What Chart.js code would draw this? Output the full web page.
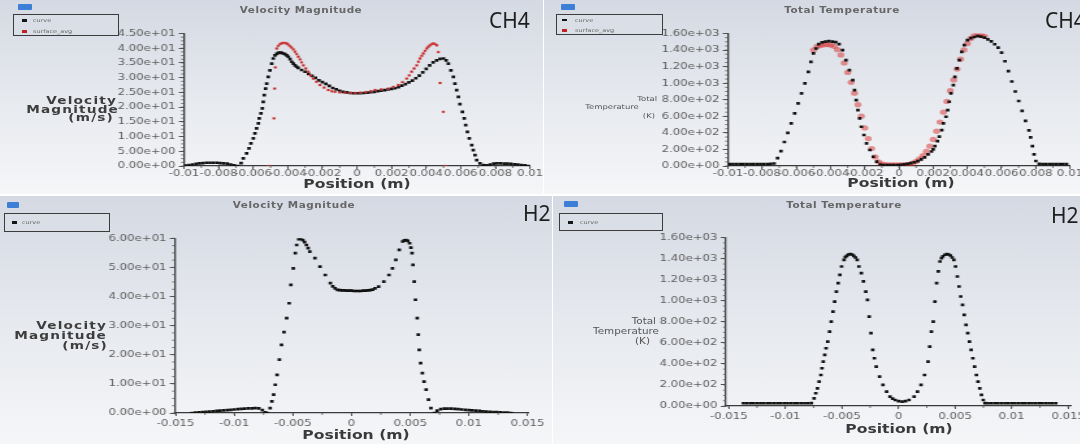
<!DOCTYPE html>
<html><head><meta charset="utf-8">
<script src="https://cdn.jsdelivr.net/npm/chart.js@4.4.1/dist/chart.umd.min.js"></script>
<style>
html,body{margin:0;padding:0;background:#fff;width:1080px;height:444px;overflow:hidden;position:relative;font-family:'DejaVu Sans',sans-serif}
.panel{position:absolute;background:linear-gradient(to bottom,#d5d9e3 0%,#e6e9ee 50%,#f5f6f8 100%)}
.wrap{position:absolute;transform-origin:0 0;transform:scaleX(1.3)}
.wrap canvas{display:block}
.t{position:absolute;white-space:nowrap;line-height:1;z-index:5}
.legend{position:absolute;border:1.5px solid #3c3c3c;background:#dadee6;box-sizing:border-box;z-index:4}
.icon{position:absolute;background:#3d7fd6;border-radius:1px;z-index:4}
.mk{position:absolute;z-index:6}
</style></head><body>
<script>
// ---------- DATA ----------
const xTicksCH4 = [-0.01,-0.008,-0.006,-0.004,-0.002,0,0.002,0.004,0.006,0.008,0.01];
const xTicksH2 = [-0.015,-0.01,-0.005,0,0.005,0.01,0.015];
const yTicksCH4Vel = [0,5,10,15,20,25,30,35,40,45];
const yTicksH2Vel = [0,10,20,30,40,50,60];
const yTicksTemp = [0,200,400,600,800,1000,1200,1400,1600];
const legendLabels = ['curve','surface_avg'];

// CH4 velocity magnitude (black series)
const ch4VelocityLine = [
[-0.0099,0.1],[-0.0097,0.3],[-0.0095,0.5],[-0.0093,0.7],[-0.0091,0.9],[-0.0089,1.0],[-0.0087,1.1],[-0.0085,1.1],[-0.0083,1.1],[-0.0081,1.1],[-0.0079,1.0],[-0.0077,0.9],[-0.0075,0.8],[-0.0073,0.5],[-0.0071,0.2],[-0.0069,0.0],[-0.0067,1.0],
[-0.00657,2.6],[-0.00638,4.3],[-0.00624,6.0],[-0.00613,7.7],[-0.00599,9.4],[-0.0059,11.1],[-0.0058,12.8],[-0.0057,14.5],[-0.00565,16.2],[-0.00555,17.9],[-0.00547,19.6],[-0.00542,21.8],[-0.00536,24.1],[-0.00528,26.3],[-0.00522,28.0],[-0.00513,30.3],[-0.00503,32.5],[-0.00493,34.8],[-0.00484,36.5],[-0.00474,37.6],[-0.00464,38.1],[-0.00455,38.4],[-0.00445,38.5],[-0.00435,38.4],[-0.00426,38.2],[-0.00416,38.0],[-0.00406,37.6],[-0.00397,37.1],[-0.00387,36.3],[-0.00377,35.4],[-0.00368,34.8],[-0.00358,34.2],[-0.00349,33.7],
[-0.0034,33.3],[-0.0032,32.6],[-0.0030,32.0],[-0.0028,31.3],[-0.0026,30.6],[-0.0024,29.9],[-0.0022,29.1],[-0.0020,28.5],[-0.0018,27.9],[-0.0016,27.2],[-0.0014,26.5],[-0.0012,26.0],[-0.0010,25.5],[-0.0008,25.2],[-0.0006,25.0],[-0.0004,24.8],[-0.0002,24.7],[0,24.7],[0.0002,24.7],[0.0004,24.8],[0.0006,24.9],[0.0008,25.1],[0.0010,25.2],[0.0012,25.4],[0.0014,25.6],[0.0016,25.8],[0.0018,26.0],[0.0020,26.2],[0.0022,26.4],[0.0024,26.8],[0.0026,27.3],[0.0028,27.8],[0.0030,28.4],[0.0032,29.0],[0.0034,29.8],[0.0036,30.7],[0.0038,31.8],[0.0040,33.0],[0.0042,34.2],[0.0044,35.2],[0.0046,35.9],[0.0048,36.4],[0.0050,36.5],[0.00515,35.9],
[0.00528,34.8],[0.00543,32.5],[0.00557,30.3],[0.00566,28.0],[0.00576,25.8],[0.00586,23.5],[0.00595,21.0],[0.00609,18.4],[0.0062,16.2],[0.00628,13.9],[0.00638,11.6],[0.00649,9.4],[0.00663,7.1],[0.00672,5.4],[0.00682,3.7],[0.00692,2.0],[0.00711,0.9],[0.0073,0.3],[0.0075,0.2],[0.0077,0.5],[0.0079,0.8],[0.0081,0.9],[0.0083,0.9],[0.0085,0.8],[0.0087,0.8],[0.0089,0.7],[0.0091,0.6],[0.0093,0.5],[0.0095,0.3],[0.0097,0.2],[0.0099,0.0]
];
// CH4 velocity magnitude (red series)
const ch4VelocityExp = [
[-0.0051,0],[-0.0048,16.2],[-0.00476,26.3],[-0.00472,33.5],[-0.00464,39.9],[-0.00455,40.8],[-0.00445,41.4],[-0.00435,41.7],[-0.00426,41.8],[-0.00416,41.8],[-0.00406,41.6],[-0.00397,41.2],[-0.00387,40.7],[-0.00378,40.2],[-0.00368,39.6],[-0.00358,38.8],[-0.00349,38.0],[-0.00339,37.1],[-0.00329,36.2],[-0.0032,35.2],[-0.0031,34.2],[-0.00296,33.1],[-0.00282,32.0],[-0.00268,30.8],[-0.00253,29.7],[-0.00234,28.6],[-0.00214,27.5],[-0.0019,26.6],[-0.00166,25.8],[-0.00145,25.4],[-0.00127,25.2],[-0.0010,25.0],[-0.0007,24.9],[-0.0004,24.8],[-0.0001,24.8],[0.0002,24.9],[0.0005,25.1],[0.0008,25.4],[0.00104,25.8],[0.0014,26.0],[0.00181,26.3],[0.0021,26.9],[0.00239,27.5],[0.00263,28.5],[0.00287,29.7],[0.00302,30.8],[0.00316,32.0],[0.0033,33.1],[0.00345,34.2],[0.00355,35.4],[0.00364,36.5],[0.00374,37.4],[0.00383,38.2],[0.00393,39.1],[0.00403,39.9],[0.00412,40.5],[0.00422,41.0],[0.00432,41.4],[0.00441,41.6],[0.00451,41.4],[0.00461,41.0],[0.0047,38.7],[0.0048,28.2],[0.00499,18.4],[0.0051,0]
];
// CH4 total temperature (black series)
const ch4TempLine = [
[-0.0099,22],[-0.0097,22],[-0.0095,22],[-0.0093,22],[-0.0091,22],[-0.0089,22],[-0.0087,22],[-0.0085,22],[-0.0083,22],[-0.0081,22],[-0.0079,22],[-0.0077,23],[-0.0075,25],
[-0.0073,30],[-0.0071,95],[-0.0069,180],[-0.0067,290],[-0.0065,400],[-0.0063,515],[-0.0061,636],[-0.0059,756],[-0.0057,877],[-0.0055,997],[-0.0053,1137],[-0.00515,1258],[-0.0050,1359],[-0.00485,1419],[-0.0047,1471],[-0.0045,1492],[-0.0043,1502],[-0.0041,1508],[-0.0039,1503],[-0.0037,1495],[-0.0035,1471],[-0.0033,1399],[-0.0031,1278],[-0.0029,1158],[-0.0027,1037],[-0.0026,917],[-0.0025,796],[-0.0024,675],[-0.0023,575],[-0.0022,474],[-0.00205,374],[-0.0019,274],[-0.0017,193],[-0.0015,112],[-0.0013,52],[-0.0011,18],[-0.0009,12],[-0.0007,10],[-0.0005,10],[-0.0003,10],[-0.0001,12],[0.0001,14],[0.0003,20],[0.0005,26],[0.0007,35],[0.0009,45],[0.0011,58],[0.0013,80],[0.0015,105],[0.0017,140],[0.0019,175],[0.0020,200],[0.0021,240],[0.00225,300],[0.00236,354],[0.0025,434],[0.0026,515],[0.00275,595],[0.00285,675],[0.00294,776],[0.00304,877],[0.00318,977],[0.00327,1077],[0.00339,1178],[0.00353,1278],[0.00367,1378],[0.00382,1459],[0.0040,1519],[0.0042,1545],[0.0044,1558],[0.0046,1568],[0.0048,1562],[0.0050,1550],[0.0052,1530],[0.0054,1505],[0.0056,1470],[0.0058,1430],[0.0060,1370],[0.0062,1265],[0.0064,1145],[0.0066,1020],[0.0068,900],[0.0070,785],[0.0072,665],[0.0074,545],[0.0076,430],[0.0077,345],[0.0078,240],[0.0079,140],[0.0080,60],[0.0082,25],
[0.0084,22],[0.0086,22],[0.0088,22],[0.0090,22],[0.0092,22],[0.0094,22],[0.0096,22],[0.0098,22]
];
// CH4 total temperature (red series)
const ch4TempExp = [
[-0.0050,1400],[-0.0048,1440],[-0.0046,1455],[-0.0044,1465],[-0.0042,1468],[-0.0040,1462],[-0.0038,1445],[-0.0036,1405],[-0.0034,1340],[-0.0032,1245],[-0.0030,1130],[-0.0028,1010],[-0.0026,880],[-0.0024,740],[-0.0022,600],[-0.0020,460],[-0.0018,330],[-0.0016,210],[-0.0014,110],[-0.0012,50],[-0.0010,25],[-0.0008,15],[-0.0006,12],[-0.0004,12],[-0.0002,12],[0,12],[0.0002,13],[0.0004,15],[0.0006,20],[0.0008,35],[0.0010,55],[0.0012,85],[0.0014,125],[0.0016,175],[0.0018,240],[0.0020,320],[0.0022,420],[0.0024,530],[0.0026,650],[0.0028,780],[0.0030,910],[0.0032,1040],[0.0034,1170],[0.0036,1290],[0.0038,1400],[0.0040,1480],[0.0042,1540],[0.0044,1575],[0.0046,1590],[0.0048,1585],[0.0050,1565]
];
// H2 velocity magnitude
const h2VelocityLine = [
[-0.0136,0.0],[-0.0133,0.1],[-0.0130,0.2],[-0.0127,0.3],[-0.0124,0.4],[-0.0121,0.5],[-0.0118,0.6],[-0.0115,0.7],[-0.0112,0.8],[-0.0109,0.9],[-0.0106,1.0],[-0.0103,1.1],[-0.0100,1.2],[-0.0097,1.3],[-0.0094,1.4],[-0.0091,1.5],[-0.0088,1.6],[-0.0085,1.6],[-0.0082,1.7],[-0.0079,1.6],[-0.0076,1.0],[-0.00735,0.2],[-0.0072,0.0],
[-0.00694,1.7],[-0.00679,4.0],[-0.00664,6.3],[-0.0065,9.7],[-0.00635,13.1],[-0.00615,18.3],[-0.00597,23.4],[-0.00576,27.8],[-0.00553,32.6],[-0.00532,37.7],[-0.00517,44.0],[-0.00497,49.7],[-0.00479,54.9],[-0.00468,57.7],[-0.0045,59.7],[-0.00432,59.8],[-0.00415,59.4],[-0.004,58.7],[-0.00385,57.7],[-0.0037,56.6],[-0.00356,55.4],[-0.00312,53.2],[-0.00269,50.3],[-0.00224,47.4],[-0.0018,44.6],[-0.0016,43.5],[-0.0014,42.8],[-0.0012,42.3],[-0.0010,42.2],[-0.0008,42.1],[-0.0006,42.1],[-0.0004,42.0],[-0.0002,42.0],[0,42.0],[0.0002,41.9],[0.0004,41.9],[0.0006,41.9],[0.0008,41.9],[0.0010,42.0],[0.0012,42.0],[0.0014,42.1],[0.0016,42.2],[0.0018,42.4],[0.0020,42.8],[0.00231,43.4],[0.00275,45.1],[0.00319,47.4],[0.00349,49.7],[0.00378,52.6],[0.00407,56.0],[0.00436,58.9],[0.0045,59.3],[0.00465,59.4],[0.0048,59.1],[0.00495,58.3],[0.00506,56.8],[0.00516,54.9],[0.00524,50.9],[0.00534,45.1],[0.00545,38.9],[0.0056,32.6],[0.00569,26.9],[0.00577,21.7],[0.00589,17.1],[0.00604,13.7],[0.00618,10.8],[0.00636,8.0],[0.00656,4.6],[0.00677,1.7],[0.00707,0.0],
[0.0073,0.8],[0.0076,1.3],[0.0079,1.5],[0.0082,1.5],[0.0085,1.5],[0.0088,1.4],[0.0091,1.3],[0.0094,1.2],[0.0097,1.1],[0.0100,1.0],[0.0103,0.9],[0.0106,0.8],[0.0109,0.7],[0.0112,0.6],[0.0115,0.5],[0.0118,0.4],[0.0121,0.3],[0.0124,0.3],[0.0127,0.2],[0.0130,0.1],[0.0133,0.1],[0.0136,0.0]
];
// H2 total temperature
const h2TempLine = [
[-0.0137,26],[-0.0134,26],[-0.0131,26],[-0.0128,26],[-0.0125,26],[-0.0122,26],[-0.0119,26],[-0.0116,26],[-0.0113,26],[-0.0110,26],[-0.0107,26],[-0.0104,26],[-0.0101,26],[-0.0098,26],[-0.0095,26],[-0.0092,26],[-0.0089,26],[-0.0086,26],[-0.0083,26],[-0.0080,26],[-0.0077,28],
[-0.00746,73],[-0.00731,121],[-0.00716,168],[-0.00701,232],[-0.00686,295],[-0.00676,359],[-0.00665,422],[-0.00652,486],[-0.0064,549],[-0.00625,612],[-0.00609,707],[-0.00594,803],[-0.00579,898],[-0.00564,993],[-0.00549,1088],[-0.00533,1168],[-0.00518,1247],[-0.00503,1326],[-0.00481,1390],[-0.0047,1415],[-0.00457,1428],[-0.00442,1440],[-0.00426,1444],[-0.0041,1440],[-0.00395,1428],[-0.0038,1412],[-0.00365,1390],[-0.0035,1326],[-0.00328,1263],[-0.0031,1184],[-0.00289,1088],[-0.00274,1009],[-0.00259,850],[-0.00243,692],[-0.00228,533],[-0.00213,454],[-0.00197,374],[-0.00167,279],[-0.00137,200],[-0.00105,136],[-0.00075,89],[-0.00052,70],[-0.00029,57],[0,47],[0.00032,41],[0.00062,47],[0.00093,57],[0.00138,89],[0.00168,136],[0.00199,200],[0.0023,295],[0.00261,422],[0.00276,565],[0.00291,707],[0.00307,803],[0.00322,993],[0.00337,1168],[0.00352,1279],[0.00367,1374],[0.0038,1405],[0.00392,1422],[0.0041,1438],[0.00428,1444],[0.00444,1440],[0.00459,1431],[0.00474,1412],[0.00489,1390],[0.00504,1326],[0.0052,1231],[0.00535,1136],[0.0055,1041],[0.00566,961],[0.00581,866],[0.00597,771],[0.00612,692],[0.00627,612],[0.00642,533],[0.00657,454],[0.00673,374],[0.00688,295],[0.00703,232],[0.00718,168],[0.00733,105],[0.00749,57],[0.00764,28],
[0.0079,26],[0.0082,26],[0.0085,26],[0.0088,26],[0.0091,26],[0.0094,26],[0.0097,26],[0.0100,26],[0.0103,26],[0.0106,26],[0.0109,26],[0.0112,26],[0.0115,26],[0.0118,26],[0.0121,26],[0.0124,26],[0.0127,26],[0.0130,26],[0.0133,26],[0.0136,26],[0.0139,26]
];

// ---------- LAYOUT / STYLE ----------
const S = 1.3;
function sci(v){ if(v===0) return '0.00e+00'; const e=Math.floor(Math.log10(Math.abs(v))+1e-9); const m=v/Math.pow(10,e); return m.toFixed(2)+'e'+(e<0?'-':'+')+String(Math.abs(e)).padStart(2,'0'); }
function pts(a){ return a.map(p=>({x:p[0],y:p[1]})); }
const blackSet = d => ({data:pts(d), pointStyle:'rect', pointRadius:1.9, pointBackgroundColor:'#121212', pointBorderWidth:0, order:1});

const minorTicks = {id:'minorTicks', afterDatasetsDraw(chart,args,o){
  const {ctx,chartArea:a,scales:{x,y}} = chart;
  ctx.save(); ctx.strokeStyle='#555'; ctx.lineWidth=0.8; ctx.beginPath();
  for(let i=Math.ceil(x.min/o.x-1e-9); i*o.x<=x.max+1e-12; i++){ const px=x.getPixelForValue(i*o.x); ctx.moveTo(px,a.bottom); ctx.lineTo(px,a.bottom+2); }
  for(let i=0; i*o.y<=y.max+1e-9; i++){ const py=y.getPixelForValue(i*o.y); ctx.moveTo(a.left,py); ctx.lineTo(a.left-2.2,py); }
  ctx.stroke(); ctx.restore();
}};

const panels = [
 {left:0, top:0, w:418, h:194, yW:141.5, padR:10.3, padT:33.5, xH:28, xMin:-0.0100, xMax:0.0100, yMax:45, xTicks:xTicksCH4, yTicks:yTicksCH4Vel, xPad:-0.4, mx:0.001, my:1.25,
  sets:[blackSet(ch4VelocityLine), {data:pts(ch4VelocityExp), pointStyle:'rect', pointRadius:1.3, pointBackgroundColor:'#b01515', pointBorderColor:'rgba(225,90,90,0.45)', pointBorderWidth:1, order:0}]},
 {left:544, top:0, w:413, h:194, yW:141.5, padR:8.4, padT:33.5, xH:28, xMin:-0.0100, xMax:0.0100, yMax:1600, xTicks:xTicksCH4, yTicks:yTicksTemp, xPad:-0.4, mx:0.001, my:50,
  sets:[blackSet(ch4TempLine), {data:pts(ch4TempExp), pointStyle:'circle', pointRadius:2.7, pointBackgroundColor:'rgba(215,45,45,0.5)', pointBorderWidth:0, order:2}]},
 {left:0, top:196, w:425, h:248, yW:134.6, padR:18.8, padT:42.3, xH:31, xMin:-0.01505, xMax:0.01505, yMax:60, xTicks:xTicksH2, yTicks:yTicksH2Vel, xPad:2.1, mx:0.0025, my:2.5,
  sets:[blackSet(h2VelocityLine)]},
 {left:553, top:196, w:406, h:248, yW:133, padR:7.5, padT:41.7, xH:38, xMin:-0.01525, xMax:0.01525, yMax:1600, xTicks:xTicksH2, yTicks:yTicksTemp, xPad:2.3, mx:0.0025, my:50,
  sets:[blackSet(h2TempLine)]}
];

const bgRects = [[0,0,543,194],[544,0,536,194],[0,196,552,248],[553,196,527,248]];
bgRects.forEach(r=>{ const d=document.createElement('div'); d.className='panel'; Object.assign(d.style,{left:r[0]+'px',top:r[1]+'px',width:r[2]+'px',height:r[3]+'px'}); document.body.appendChild(d); });

const tickFont = {family:'DejaVu Sans', size:9};
panels.forEach(p=>{
  const wrap=document.createElement('div'); wrap.className='wrap';
  Object.assign(wrap.style,{left:p.left+'px',top:p.top+'px',width:p.w+'px',height:p.h+'px'});
  const cv=document.createElement('canvas'); cv.width=p.w; cv.height=p.h; cv.style.width=p.w+'px'; cv.style.height=p.h+'px';
  wrap.appendChild(cv); document.body.appendChild(wrap);
  new Chart(cv, {
    type:'scatter',
    data:{datasets:p.sets},
    plugins:[minorTicks],
    options:{
      responsive:false, animation:false, devicePixelRatio:1,
      layout:{padding:{left:0,right:p.padR,top:p.padT,bottom:0}},
      plugins:{legend:{display:false}, tooltip:{enabled:false}, minorTicks:{x:p.mx,y:p.my}},
      scales:{
        x:{type:'linear', min:p.xMin, max:p.xMax,
           afterBuildTicks:s=>{ s.ticks=p.xTicks.map(v=>({value:v})); },
           afterFit:s=>{ s.height=p.xH; s.paddingLeft=0; s.paddingRight=0; },
           ticks:{autoSkip:false, maxRotation:0, minRotation:0, font:tickFont, color:'#5e5e5e', padding:p.xPad, callback:v=>String(v)},
           grid:{drawOnChartArea:false, drawTicks:true, tickLength:3, color:'#555', tickColor:'#555'},
           border:{display:true, color:'#3a3a3a', width:1.3}},
        y:{type:'linear', min:0, max:p.yMax,
           afterBuildTicks:s=>{ s.ticks=p.yTicks.map(v=>({value:v})); },
           afterFit:s=>{ s.width=p.yW; s.paddingTop=0; s.paddingBottom=0; },
           ticks:{autoSkip:false, font:tickFont, color:'#5e5e5e', padding:2.5, callback:v=>sci(v)},
           grid:{drawOnChartArea:false, drawTicks:true, tickLength:4, color:'#555', tickColor:'#555'},
           border:{display:true, color:'#3a3a3a', width:1.3}}
      }
    }
  });
});

// ---------- TEXT / DECOR ----------
function txt(str,x,y,align,css,noScale){
  const el=document.createElement('div'); el.className='t'; el.textContent=str; el.style.cssText+=css;
  el.style.left=x+'px'; el.style.top=y+'px';
  const sc = noScale ? '' : ' scaleX('+S+')';
  if(align==='center'){ el.style.transformOrigin='50% 50%'; el.style.transform='translate(-50%,-50%)'+sc; }
  else if(align==='right'){ el.style.transformOrigin='100% 50%'; el.style.transform='translate(-100%,-50%)'+sc; }
  else { el.style.transformOrigin='0 50%'; el.style.transform='translate(0,-50%)'+sc; }
  document.body.appendChild(el); return el;
}
function box(cls,x,y,w,h,bg){ const d=document.createElement('div'); d.className=cls; Object.assign(d.style,{left:x+'px',top:y+'px',width:w+'px',height:h+'px'}); if(bg) d.style.background=bg; document.body.appendChild(d); }

const titleCss='font-size:8px;font-weight:bold;color:#666;letter-spacing:0.4px;';
txt('Velocity Magnitude',301,10.5,'center',titleCss);
txt('Total Temperature',842,10.5,'center',titleCss);
txt('Velocity Magnitude',294,206,'center',titleCss);
txt('Total Temperature',844,206,'center',titleCss);

const posCss='font-size:12px;font-weight:bold;color:#3a3a3a;';
txt('Position (m)',357,183.5,'center',posCss);
txt('Position (m)',901,183,'center',posCss);
txt('Position (m)',356,435,'center',posCss);
txt('Position (m)',899,428.5,'center',posCss);

const yvCss='font-size:10.5px;font-weight:bold;color:#3d3d3d;letter-spacing:0.9px;';
txt('Velocity',117,100,'right',yvCss); txt('Magnitude',119,108.5,'right',yvCss); txt('(m/s)',114,117,'right',yvCss);
txt('Velocity',107,325,'right',yvCss); txt('Magnitude',107,335,'right',yvCss); txt('(m/s)',108,345,'right',yvCss);
const ytCssA='font-size:6.5px;color:#555;';
txt('Total',657,99,'right',ytCssA); txt('Temperature',612,107,'center',ytCssA); txt('(K)',655,116,'right',ytCssA);
const ytCssB='font-size:8px;color:#555;';
txt('Total',656,322,'right',ytCssB); txt('Temperature',626,332,'center',ytCssB); txt('(K)',650,342,'right',ytCssB);

const bigCss="font-family:'Noto Sans',sans-serif;font-size:21px;color:#1e1e1e;";
txt('CH4',489,19.8,'left',bigCss,true);
txt('CH4',1045,19.8,'left',bigCss,true);
txt('H2',523,212.5,'left',bigCss,true);
txt('H2',1051,214.5,'left',bigCss,true);

// icons
box('icon',18,4,14,6); box('icon',561,4,14,6); box('icon',7,202,12,6); box('icon',564,201,14,6);
// legend boxes
box('legend',13,14,106,22); box('legend',556,14,107,21); box('legend',4,213,106,19); box('legend',559,213,104,18);
// legend markers and texts
const lgCss='font-size:5px;color:#666;';
box('mk',22,19,5,2.5,'#151515'); txt(legendLabels[0],33,20,'left',lgCss);
box('mk',22,30,5,2.5,'#c02020'); txt(legendLabels[1],33,31,'left',lgCss);
box('mk',562,18.5,5,2.5,'#151515'); txt(legendLabels[0],575,19.5,'left',lgCss);
box('mk',562,29,5,2.5,'#c02020'); txt(legendLabels[1],575,30,'left',lgCss);
box('mk',12,221,5,2.5,'#151515'); txt(legendLabels[0],22,222,'left',lgCss);
box('mk',568,221,5,2.5,'#151515'); txt(legendLabels[0],580,222,'left',lgCss);
</script>
</body></html>
